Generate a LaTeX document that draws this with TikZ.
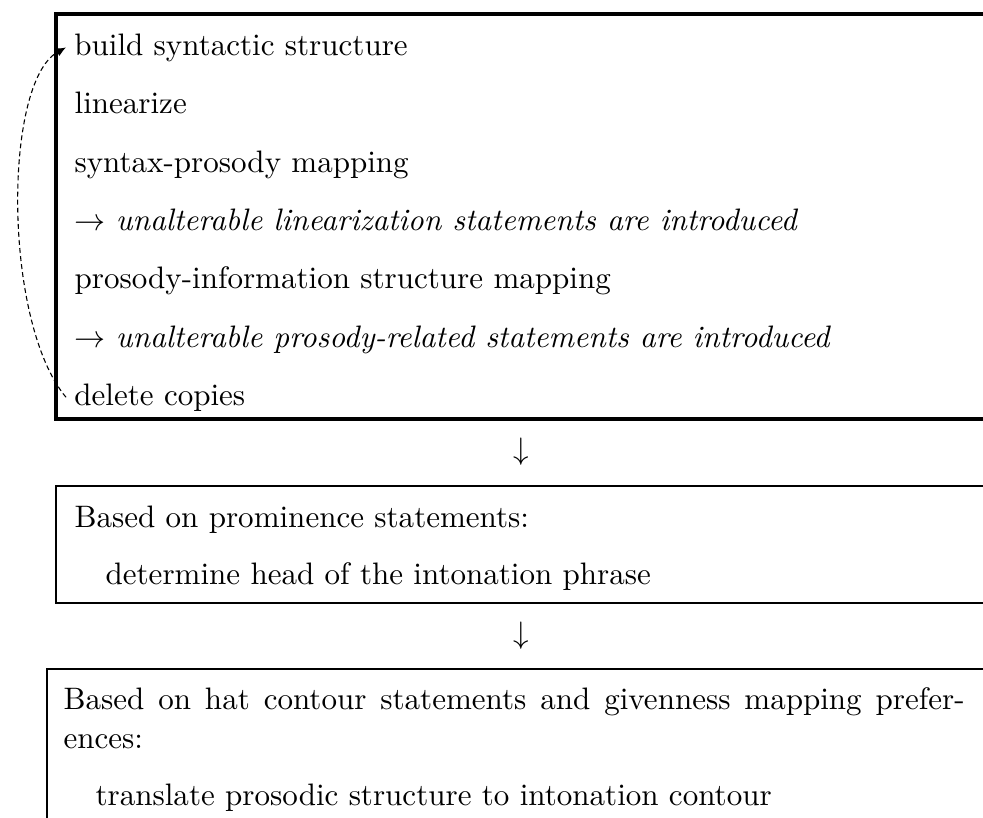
\documentclass[tikz,border=0pt]{standalone}
\usetikzlibrary{arrows.meta}
\newlength{\pxu}\setlength{\pxu}{0.3222pt}
\begin{document}
\begin{tikzpicture}[x=0.3222pt,y=-0.3222pt,
  txt/.style={anchor=base west,inner sep=0pt,font=\normalsize},
  reftxt/.style={anchor=base west,inner xsep=2.5pt,inner ysep=0pt,font=\normalsize},
  boxA/.style={draw=black,line width=1pt},
  boxB/.style={draw=black,line width=0.65pt},
  looparrow/.style={draw=black,line width=0.35pt,dash pattern=on 1.6pt off 1pt,-{Latex[length=3.2pt,width=2.8pt]}},
  downarr/.style={inner sep=0pt,font=\normalsize}]
\useasboundingbox (0,0) rectangle (983,817);
\clip (0,0) rectangle (983,817);
% boxes
\draw[boxA] (56,14) rectangle (1000,419);
\draw[boxB] (56,486) rectangle (1000,603);
\draw[boxB] (47,669) rectangle (1000,900);
% box 1 lines
\node[reftxt] (build) at (66,55) {build syntactic structure};
\node[txt] (lin) at (74,113) {linearize};
\node[txt] (spm) at (74,172) {syntax-prosody mapping};
\node[txt] (ul) at (74,230) {$\rightarrow$ \textit{unalterable linearization statements are introduced}};
\node[txt] (pism) at (74,288) {prosody-information structure mapping};
\node[txt] (up) at (74,347) {$\rightarrow$ \textit{unalterable prosody-related statements are introduced}};
\node[reftxt] (del) at (66,405) {delete copies};
\draw[looparrow] (del.west) .. controls +(-63,-75) and +(-63,35) .. (build.west);
% arrows between boxes
\node[downarr] (d1) at (521,452) {$\downarrow$};
\node[downarr] (d2) at (521,636) {$\downarrow$};
% box 2
\node[txt] (bp) at (74,527) {Based on prominence statements:};
\node[txt] (dh) at (105,584) {determine head of the intonation phrase};
% box 3
\node[txt] (bh) at (63,709) {\makebox[901\pxu][s]{Based on hat contour statements and givenness mapping prefer-}};
\node[txt] (en) at (63,748) {ences:};
\node[txt] (tp) at (95,805) {translate prosodic structure to intonation contour};
\end{tikzpicture}
\end{document}
